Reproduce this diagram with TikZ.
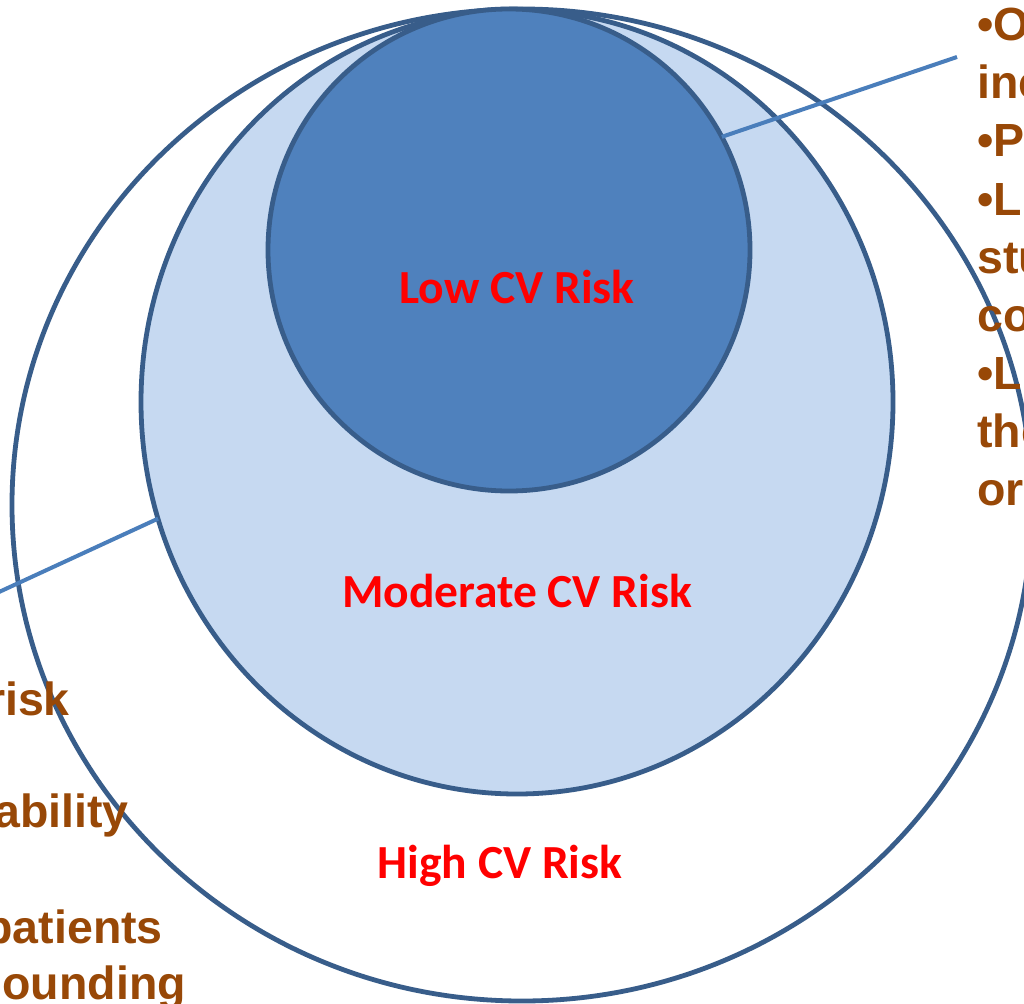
\documentclass[tikz,border=0pt]{standalone}
\usepackage{fontspec}
\setmainfont{Liberation Sans}
\newfontfamily\calibfont{Carlito}
\usetikzlibrary{shapes.geometric}
\definecolor{ringedge}{HTML}{385D8A}
\definecolor{innerfill}{HTML}{4F81BD}
\definecolor{midfill}{HTML}{C6D9F1}
\definecolor{connblue}{HTML}{4A7EBB}
\definecolor{notebrown}{HTML}{984807}
\definecolor{riskred}{HTML}{FF0000}
\tikzset{
  ring/.style={ellipse, draw=ringedge, line width=4.8pt, inner sep=0pt, outer sep=0pt},
  conn/.style={draw=connblue, line width=4pt},
  risklabel/.style={text=riskred, font=\calibfont\bfseries\fontsize{47.5}{56}\selectfont, inner sep=0pt, anchor=base},
  note/.style={text=notebrown, font=\bfseries\fontsize{46.5}{58}\selectfont, inner sep=0pt}
}
\begin{document}
\begin{tikzpicture}[x=1pt,y=-1pt]
\useasboundingbox (0,0) rectangle (1024,1003);
\clip (0,0) rectangle (1024,1003);
\fill[white] (0,0) rectangle (1024,1003);
% circles
\node[ring, minimum width=1020, minimum height=992] (outer) at (522,505) {};
\node[ring, fill=midfill, minimum width=752, minimum height=784] (mid) at (517,402) {};
\node[ring, fill=innerfill, minimum width=482, minimum height=482] (inner) at (509,250) {};
% connectors
\coordinate (rtend) at (957,57);
\coordinate (ltend) at (-40,610);
\draw[conn] (inner.28.6) -- (rtend);
\draw[conn] (mid.198) -- (ltend);
% risk labels
\node[risklabel] (lowlbl) at (517,303) {Low CV Risk};
\node[risklabel] (modlbl) at (517,607) {Moderate CV Risk};
\node[risklabel] (highlbl) at (500,878) {High CV Risk};
% right notes (cut off)
\node[note, anchor=base west] (r1) at (977,41) {•O};
\node[note, anchor=base west] (r2) at (977,99) {inc};
\node[note, anchor=base west] (r3) at (977,157) {•P};
\node[note, anchor=base west] (r4) at (977,215) {•L};
\node[note, anchor=base west] (r5) at (977,273) {stu};
\node[note, anchor=base west] (r6) at (977,331) {co};
\node[note, anchor=base west] (r7) at (977,389) {•L};
\node[note, anchor=base west] (r8) at (977,447) {the};
\node[note, anchor=base west] (r9) at (977,505) {or};
% left notes (cut off)
\node[note, anchor=base east] (l1) at (70,715) {risk};
\node[note, anchor=base east] (l2) at (129,827) {ability};
\node[note, anchor=base east] (l3) at (163,943) {patients};
\node[note, anchor=base east] (l4) at (186,999) {ounding};
\end{tikzpicture}
\end{document}
